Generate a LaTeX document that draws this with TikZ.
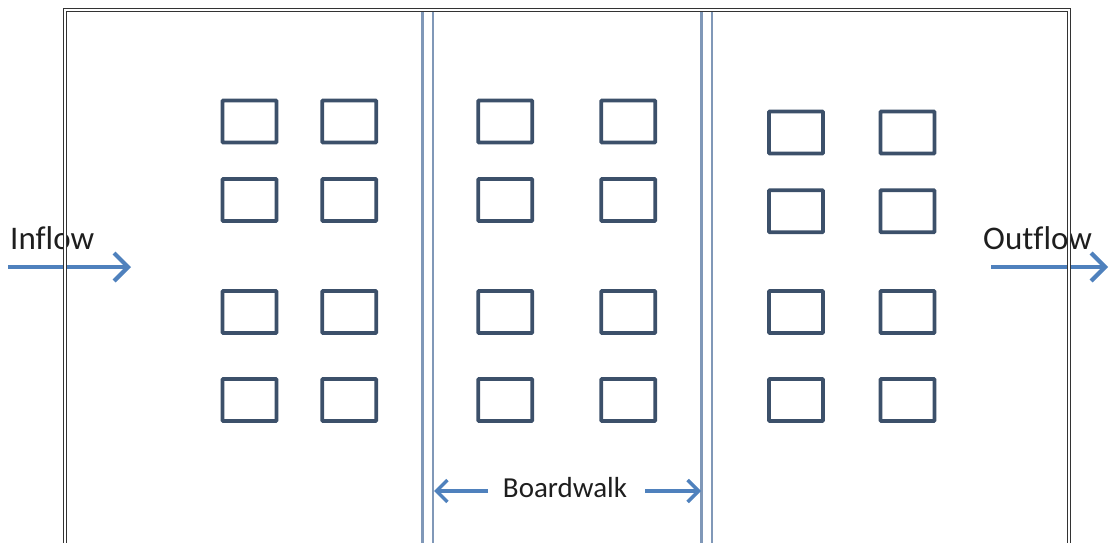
\documentclass[tikz,border=0pt]{standalone}
\usepackage{fontspec}
\setmainfont[Ligatures=NoCommon]{Carlito}
\usetikzlibrary{arrows.meta}
\definecolor{boxcol}{RGB}{60,80,106}
\definecolor{arrcol}{RGB}{79,129,189}
\definecolor{walkcol}{RGB}{128,152,184}
\definecolor{txtcol}{RGB}{30,30,30}
\tikzset{
  pad/.style={draw=boxcol, line width=3.8pt, minimum width=54pt, minimum height=42pt, inner sep=0pt, rounded corners=0.8pt},
  flow/.style={draw=arrcol, line width=4.2pt, -{Straight Barb[length=14pt,width=28pt,line width=4.2pt]}},
  walkarr/.style={draw=arrcol, line width=3.4pt, -{Straight Barb[length=11pt,width=22pt,line width=3.4pt]}},
  walkline/.style={draw=walkcol, line width=2.6pt},
  frame/.style={draw=black!80, line width=1.5pt, double=white, double distance=1.5pt},
  lbl/.style={text=txtcol, inner sep=0pt, font=\fontsize{33}{40}\selectfont},
  blbl/.style={text=txtcol, inner sep=0pt, font=\fontsize{29}{35}\selectfont}
}
\begin{document}
\begin{tikzpicture}[x=1pt,y=-1pt]
\useasboundingbox (0,0) rectangle (1109,543);
% labels
\node[lbl, anchor=base west] (inflow) at (10,249) {Inflow};
\node[lbl, anchor=base west] (outflow) at (983,249) {Outflow};
\node[blbl, anchor=base] (bw) at (565,497) {Boardwalk};
% flow arrows
\coordinate (inA) at (8,267);
\coordinate (inB) at (131,267);
\coordinate (outA) at (991,267);
\coordinate (outB) at (1108,267);
\draw[flow] (inA) -- (inB);
\draw[flow] (outA) -- (outB);
% boardwalk lines
\coordinate (w1t) at (422.5,10); \coordinate (w1b) at (422.5,545);
\coordinate (w2t) at (433,10);   \coordinate (w2b) at (433,545);
\coordinate (w3t) at (701.5,10); \coordinate (w3b) at (701.5,545);
\coordinate (w4t) at (712,10);   \coordinate (w4b) at (712,545);
\draw[walkline] (w1t) -- (w1b);
\draw[walkline] (w2t) -- (w2b);
\draw[walkline] (w3t) -- (w3b);
\draw[walkline] (w4t) -- (w4b);
% boardwalk arrows
\coordinate (bwL) at (488,491);
\coordinate (bwR) at (645,491);
\coordinate (bwLt) at (434,491);
\coordinate (bwRt) at (701,491);
\draw[walkarr] (bwL) -- (bwLt);
\draw[walkarr] (bwR) -- (bwRt);
% pads: left section
\node[pad] (L11) at (249.4,121.5) {};
\node[pad] (L12) at (349.2,121.5) {};
\node[pad] (L21) at (249.4,200) {};
\node[pad] (L22) at (349.2,200) {};
\node[pad] (L31) at (249.4,312) {};
\node[pad] (L32) at (349.2,312) {};
\node[pad] (L41) at (249.4,400) {};
\node[pad] (L42) at (349.2,400) {};
% middle section
\node[pad] (M11) at (505.3,121.5) {};
\node[pad] (M12) at (628.3,121.5) {};
\node[pad] (M21) at (505.3,200) {};
\node[pad] (M22) at (628.3,200) {};
\node[pad] (M31) at (505.3,312) {};
\node[pad] (M32) at (628.3,312) {};
\node[pad] (M41) at (505.3,400) {};
\node[pad] (M42) at (628.3,400) {};
% right section
\node[pad] (R11) at (796,132.5) {};
\node[pad] (R12) at (907.5,132.5) {};
\node[pad] (R21) at (796,211.3) {};
\node[pad] (R22) at (907.5,211.3) {};
\node[pad] (R31) at (796,312) {};
\node[pad] (R32) at (907.5,312) {};
\node[pad] (R41) at (796,400) {};
\node[pad] (R42) at (907.5,400) {};
% outer frame (open at the bottom)
\coordinate (fbl) at (64.8,560);
\coordinate (ftl) at (64.8,10.2);
\coordinate (ftr) at (1069.2,10.2);
\coordinate (fbr) at (1069.2,560);
\draw[frame] (fbl) -- (ftl) -- (ftr) -- (fbr);
\end{tikzpicture}
\end{document}
